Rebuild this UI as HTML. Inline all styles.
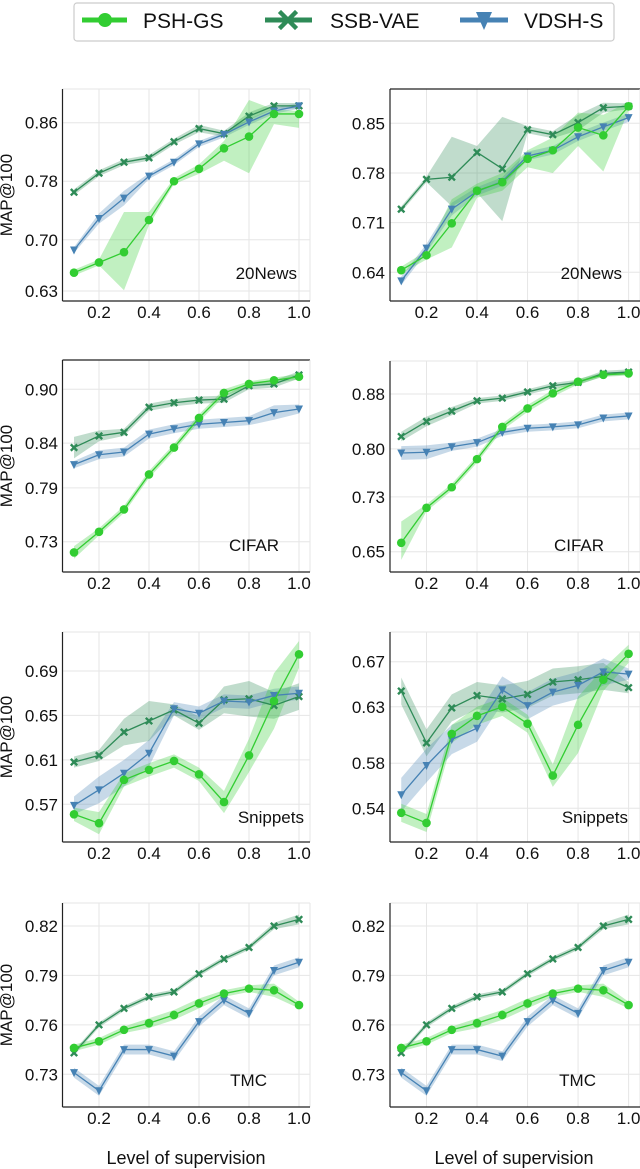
<!DOCTYPE html>
<html><head><meta charset="utf-8"><style>
html,body{margin:0;padding:0;background:#fff;}
svg{display:block;font-family:"Liberation Sans","DejaVu Sans",sans-serif;}
</style></head><body>
<svg id="fig" width="640" height="1169" viewBox="0 0 640 1169" xmlns="http://www.w3.org/2000/svg">
<g>
<rect x="74" y="3" width="540" height="38" rx="3" fill="#fff" stroke="#ccc" stroke-width="1.2"/>
<g>
<line x1="82" y1="20" x2="127" y2="20" stroke="#32cd32" stroke-width="5"/>
<circle cx="105" cy="20" r="7" fill="#32cd32"/>
<text x="143" y="28" font-size="21" fill="#111">PSH-GS</text></g>
<g>
<line x1="265" y1="20" x2="312" y2="20" stroke="#2e8b57" stroke-width="5"/>
<path d="M281,12 L288,19 L295,12 L296,13 L289,20 L296,27 L295,28 L288,21 L281,28 L280,27 L287,20 L280,13Z" fill="#2e8b57" stroke="#2e8b57" stroke-width="3"/>
<text x="330" y="28" font-size="21" fill="#111">SSB-VAE</text></g>
<g>
<line x1="460" y1="20" x2="508" y2="20" stroke="#4682b4" stroke-width="5"/>
<path d="M476,12 L492,12 L484,30Z" fill="#4682b4"/>
<text x="524" y="28" font-size="21" fill="#111">VDSH-S</text></g>
</g>
<text x="186" y="1164" font-size="18" text-anchor="middle" fill="#111">Level of supervision</text>
<text x="514" y="1164" font-size="18" text-anchor="middle" fill="#111">Level of supervision</text>
</svg>
<script>
const xVals = [0.1,0.2,0.3,0.4,0.5,0.6,0.7,0.8,0.9,1.0];
const xTicks = [0.2,0.4,0.6,0.8,1.0];
const xTickLabels = ["0.2","0.4","0.6","0.8","1.0"];

// Panel 1: 20News left
const p1Ticks = [0.86,0.78,0.70,0.63];
const p1Labels = ["0.86","0.78","0.70","0.63"];
const p1Psh = [0.655,0.669,0.683,0.727,0.780,0.797,0.825,0.841,0.872,0.872];
const p1PshLo = [0.651,0.665,0.631,0.720,0.776,0.790,0.808,0.791,0.858,0.853];
const p1PshHi = [0.659,0.673,0.738,0.738,0.784,0.803,0.835,0.891,0.878,0.876];
const p1Ssb = [0.765,0.791,0.806,0.812,0.834,0.852,0.845,0.869,0.883,0.883];
const p1SsbLo = [0.761,0.787,0.802,0.808,0.830,0.847,0.841,0.864,0.879,0.879];
const p1SsbHi = [0.769,0.795,0.810,0.816,0.838,0.857,0.849,0.874,0.887,0.887];
const p1Vd = [0.686,0.729,0.757,0.787,0.806,0.831,0.844,0.861,0.876,0.883];
const p1VdLo = [0.682,0.722,0.747,0.783,0.802,0.827,0.840,0.857,0.872,0.879];
const p1VdHi = [0.690,0.736,0.767,0.791,0.810,0.835,0.848,0.865,0.880,0.887];

// Panel 2: 20News right
const p2Ticks = [0.85,0.78,0.71,0.64];
const p2Labels = ["0.85","0.78","0.71","0.64"];
const p2Psh = [0.643,0.664,0.709,0.755,0.767,0.800,0.812,0.844,0.833,0.874];
const p2PshLo = [0.638,0.658,0.675,0.745,0.755,0.788,0.780,0.818,0.782,0.868];
const p2PshHi = [0.648,0.670,0.743,0.765,0.780,0.812,0.830,0.865,0.862,0.880];
const p2Ssb = [0.729,0.771,0.774,0.809,0.786,0.841,0.834,0.851,0.872,0.874];
const p2SsbLo = [0.725,0.767,0.733,0.752,0.712,0.836,0.829,0.840,0.865,0.870];
const p2SsbHi = [0.733,0.775,0.831,0.818,0.859,0.846,0.839,0.862,0.879,0.878];
const p2Vd = [0.628,0.674,0.729,0.754,0.768,0.804,0.812,0.831,0.845,0.858];
const p2VdLo = [0.622,0.668,0.720,0.748,0.762,0.798,0.806,0.825,0.839,0.852];
const p2VdHi = [0.634,0.680,0.738,0.760,0.774,0.810,0.818,0.837,0.851,0.864];

// Panel 3: CIFAR left
const p3Ticks = [0.90,0.84,0.79,0.73];
const p3Labels = ["0.90","0.84","0.79","0.73"];
const p3Psh = [0.718,0.741,0.766,0.805,0.835,0.868,0.896,0.906,0.910,0.914];
const p3PshLo = [0.711,0.737,0.762,0.801,0.831,0.864,0.892,0.903,0.907,0.911];
const p3PshHi = [0.725,0.745,0.770,0.809,0.839,0.872,0.900,0.909,0.913,0.917];
const p3Ssb = [0.835,0.848,0.852,0.880,0.885,0.888,0.889,0.904,0.906,0.916];
const p3SsbLo = [0.823,0.842,0.848,0.876,0.881,0.884,0.885,0.900,0.902,0.912];
const p3SsbHi = [0.847,0.854,0.856,0.884,0.889,0.892,0.893,0.908,0.910,0.920];
const p3Vd = [0.816,0.827,0.830,0.850,0.856,0.861,0.863,0.865,0.874,0.878];
const p3VdLo = [0.812,0.822,0.825,0.845,0.851,0.856,0.858,0.860,0.866,0.873];
const p3VdHi = [0.820,0.832,0.835,0.855,0.861,0.866,0.868,0.870,0.882,0.883];

// Panel 4: CIFAR right
const p4Ticks = [0.88,0.80,0.73,0.65];
const p4Labels = ["0.88","0.80","0.73","0.65"];
const p4Psh = [0.663,0.714,0.744,0.785,0.832,0.859,0.881,0.898,0.908,0.910];
const p4PshLo = [0.638,0.709,0.739,0.780,0.827,0.854,0.876,0.894,0.905,0.907];
const p4PshHi = [0.694,0.719,0.749,0.790,0.837,0.864,0.886,0.902,0.911,0.913];
const p4Ssb = [0.818,0.840,0.855,0.870,0.874,0.883,0.892,0.897,0.910,0.912];
const p4SsbLo = [0.811,0.833,0.849,0.866,0.870,0.879,0.888,0.893,0.906,0.908];
const p4SsbHi = [0.825,0.847,0.861,0.874,0.878,0.887,0.896,0.901,0.914,0.916];
const p4Vd = [0.794,0.795,0.803,0.809,0.824,0.830,0.832,0.835,0.845,0.848];
const p4VdLo = [0.784,0.785,0.797,0.803,0.819,0.825,0.827,0.830,0.840,0.843];
const p4VdHi = [0.804,0.805,0.809,0.815,0.829,0.835,0.837,0.840,0.850,0.853];

// Panel 5: Snippets left
const p5Ticks = [0.69,0.65,0.61,0.57];
const p5Labels = ["0.69","0.65","0.61","0.57"];
const p5Psh = [0.561,0.553,0.592,0.601,0.609,0.597,0.572,0.614,0.663,0.705];
const p5PshLo = [0.555,0.543,0.586,0.595,0.603,0.591,0.562,0.599,0.638,0.693];
const p5PshHi = [0.567,0.563,0.598,0.607,0.615,0.603,0.582,0.629,0.688,0.717];
const p5Ssb = [0.608,0.614,0.635,0.645,0.655,0.643,0.664,0.665,0.659,0.667];
const p5SsbLo = [0.603,0.609,0.623,0.627,0.650,0.637,0.652,0.649,0.647,0.655];
const p5SsbHi = [0.613,0.619,0.647,0.663,0.660,0.649,0.676,0.681,0.671,0.679];
const p5Vd = [0.569,0.583,0.598,0.616,0.656,0.652,0.663,0.662,0.668,0.670];
const p5VdLo = [0.561,0.571,0.586,0.604,0.650,0.646,0.657,0.656,0.662,0.664];
const p5VdHi = [0.577,0.595,0.610,0.628,0.662,0.658,0.669,0.668,0.674,0.676];

// Panel 6: Snippets right
const p6Ticks = [0.67,0.63,0.58,0.54];
const p6Labels = ["0.67","0.63","0.58","0.54"];
const p6Psh = [0.536,0.527,0.606,0.622,0.630,0.615,0.569,0.614,0.654,0.677];
const p6PshLo = [0.528,0.519,0.598,0.614,0.622,0.607,0.559,0.589,0.644,0.669];
const p6PshHi = [0.544,0.535,0.614,0.630,0.638,0.623,0.579,0.639,0.664,0.685];
const p6Ssb = [0.644,0.598,0.629,0.640,0.637,0.641,0.652,0.654,0.657,0.647];
const p6SsbLo = [0.632,0.586,0.617,0.628,0.625,0.629,0.640,0.642,0.645,0.642];
const p6SsbHi = [0.656,0.610,0.641,0.652,0.649,0.653,0.664,0.666,0.669,0.652];
const p6Vd = [0.552,0.578,0.601,0.611,0.645,0.631,0.643,0.649,0.661,0.659];
const p6VdLo = [0.537,0.563,0.588,0.599,0.633,0.619,0.631,0.637,0.649,0.654];
const p6VdHi = [0.567,0.593,0.614,0.623,0.657,0.643,0.655,0.661,0.673,0.664];

// Panels 7 & 8: TMC
const p7Ticks = [0.82,0.79,0.76,0.73];
const p7Labels = ["0.82","0.79","0.76","0.73"];
const p7Psh = [0.746,0.750,0.757,0.761,0.766,0.773,0.779,0.782,0.781,0.772];
const p7PshLo = [0.744,0.748,0.755,0.758,0.763,0.770,0.777,0.780,0.777,0.770];
const p7PshHi = [0.748,0.752,0.759,0.764,0.769,0.776,0.781,0.784,0.785,0.774];
const p7Ssb = [0.743,0.760,0.770,0.777,0.780,0.791,0.800,0.807,0.820,0.824];
const p7SsbLo = [0.7415,0.7585,0.7685,0.7755,0.7785,0.7895,0.7985,0.8055,0.818,0.821];
const p7SsbHi = [0.7445,0.7615,0.7715,0.7785,0.7815,0.7925,0.8015,0.8085,0.822,0.827];
const p7Vd = [0.731,0.720,0.745,0.745,0.741,0.762,0.775,0.767,0.793,0.798];
const p7VdLo = [0.728,0.717,0.742,0.742,0.738,0.759,0.772,0.764,0.790,0.795];
const p7VdHi = [0.734,0.723,0.748,0.748,0.744,0.765,0.778,0.770,0.796,0.801];

const panels = [
 {name:"20news-left",col:0,top:89,bot:301,v1:0.86,y1:122.7,v2:0.63,y2:291,ticks:p1Ticks,labels:p1Labels,darkTop:false,label:"20News",lx:297,ly:279,psh:[p1Psh,p1PshLo,p1PshHi],ssb:[p1Ssb,p1SsbLo,p1SsbHi],vd:[p1Vd,p1VdLo,p1VdHi]},
 {name:"20news-right",col:1,top:89,bot:301,v1:0.85,y1:123.3,v2:0.64,y2:272.3,ticks:p2Ticks,labels:p2Labels,darkTop:true,label:"20News",lx:622,ly:279,psh:[p2Psh,p2PshLo,p2PshHi],ssb:[p2Ssb,p2SsbLo,p2SsbHi],vd:[p2Vd,p2VdLo,p2VdHi]},
 {name:"cifar-left",col:0,top:360,bot:572,v1:0.90,y1:389.3,v2:0.73,y2:541.7,ticks:p3Ticks,labels:p3Labels,darkTop:true,label:"CIFAR",lx:279,ly:551,psh:[p3Psh,p3PshLo,p3PshHi],ssb:[p3Ssb,p3SsbLo,p3SsbHi],vd:[p3Vd,p3VdLo,p3VdHi]},
 {name:"cifar-right",col:1,top:361,bot:572,v1:0.88,y1:394,v2:0.65,y2:551.7,ticks:p4Ticks,labels:p4Labels,darkTop:false,label:"CIFAR",lx:604,ly:551,psh:[p4Psh,p4PshLo,p4PshHi],ssb:[p4Ssb,p4SsbLo,p4SsbHi],vd:[p4Vd,p4VdLo,p4VdHi]},
 {name:"snippets-left",col:0,top:632,bot:842,v1:0.69,y1:671,v2:0.57,y2:804.3,ticks:p5Ticks,labels:p5Labels,darkTop:false,label:"Snippets",lx:304,ly:823,psh:[p5Psh,p5PshLo,p5PshHi],ssb:[p5Ssb,p5SsbLo,p5SsbHi],vd:[p5Vd,p5VdLo,p5VdHi]},
 {name:"snippets-right",col:1,top:632,bot:842,v1:0.67,y1:661.7,v2:0.54,y2:808.3,ticks:p6Ticks,labels:p6Labels,darkTop:false,label:"Snippets",lx:628,ly:823,psh:[p6Psh,p6PshLo,p6PshHi],ssb:[p6Ssb,p6SsbLo,p6SsbHi],vd:[p6Vd,p6VdLo,p6VdHi]},
 {name:"tmc-left",col:0,top:903,bot:1107,v1:0.82,y1:926,v2:0.73,y2:1074.3,ticks:p7Ticks,labels:p7Labels,darkTop:false,label:"TMC",lx:267,ly:1086,psh:[p7Psh,p7PshLo,p7PshHi],ssb:[p7Ssb,p7SsbLo,p7SsbHi],vd:[p7Vd,p7VdLo,p7VdHi]},
 {name:"tmc-right",col:1,top:903,bot:1107,v1:0.82,y1:926,v2:0.73,y2:1074.3,ticks:p7Ticks,labels:p7Labels,darkTop:false,label:"TMC",lx:596,ly:1086,psh:[p7Psh,p7PshLo,p7PshHi],ssb:[p7Ssb,p7SsbLo,p7SsbHi],vd:[p7Vd,p7VdLo,p7VdHi]}
];
const cols = [{left:62.5,right:310,x02:99,x10:299,tickEnd:58},{left:390,right:640,x02:426.5,x10:628.6,tickEnd:385}];
const NS="http://www.w3.org/2000/svg";
const svg=document.getElementById('fig');
function mk(tag,attrs,parent){const e=document.createElementNS(NS,tag);for(const k in attrs)e.setAttribute(k,attrs[k]);parent.appendChild(e);return e;}
const colors={psh:"#32cd32",ssb:"#2e8b57",vd:"#4682b4"};
panels.forEach(p=>{
 const c=cols[p.col];
 const xs=v=>c.x02+(v-0.2)*(c.x10-c.x02)/0.8;
 const ys=v=>p.y1+(p.v1-v)*(p.y2-p.y1)/(p.v1-p.v2);
 const g=mk('g',{},svg);
 
 
 const clipId='clip-'+p.name;
 const cp=mk('clipPath',{id:clipId},g);
 mk('rect',{x:c.left,y:p.top,width:c.right-c.left,height:p.bot-p.top},cp);
 xTicks.forEach(t=>{const l=mk('line',{x1:xs(t),x2:xs(t),y1:p.top,y2:p.bot,stroke:"#e6e6e6","stroke-width":1},g);
  });
 p.ticks.forEach(t=>{const l=mk('line',{x1:c.left,x2:c.right,y1:ys(t),y2:ys(t),stroke:"#e6e6e6","stroke-width":1},g);
  });
 mk('line',{x1:c.left,x2:c.right,y1:p.top,y2:p.top,stroke:p.darkTop?"#222":"#e6e6e6","stroke-width":p.darkTop?1.2:1},g);
 mk('line',{x1:c.right,x2:c.right,y1:p.top,y2:p.bot,stroke:"#e6e6e6","stroke-width":1},g);
 const ya=mk('line',{x1:c.left,x2:c.left,y1:p.top,y2:p.bot,stroke:"#222","stroke-width":1.2},g);
 
 const xa=mk('line',{x1:c.left,x2:c.right,y1:p.bot,y2:p.bot,stroke:"#222","stroke-width":1.2},g);
 
 xTicks.forEach((t,i)=>{const tx=mk('text',{x:xs(t),y:p.bot+17,"font-size":17,"text-anchor":"middle",fill:"#111"},g);tx.textContent=xTickLabels[i];
  });
 p.ticks.forEach((t,i)=>{const tx=mk('text',{x:c.tickEnd,y:ys(t)+6,"font-size":17,"text-anchor":"end",fill:"#111"},g);tx.textContent=p.labels[i];
  });
 const pg=mk('g',{"clip-path":"url(#"+clipId+")"},g);
 ["ssb","vd","psh"].forEach(k=>{
  const [m,lo,hi]=p[k];
  let d="M"+xVals.map((x,i)=>xs(x)+","+ys(hi[i])).join(" L")+" L"+xVals.slice().reverse().map((x,j)=>{const i=xVals.length-1-j;return xs(x)+","+ys(lo[i]);}).join(" L")+"Z";
  const band=mk('path',{d:d,fill:colors[k],"fill-opacity":0.3,stroke:"none"},pg);
  
 });
 ["ssb","vd","psh"].forEach(k=>{
  const m=p[k][0];
  const ln=mk('polyline',{points:xVals.map((x,i)=>xs(x)+","+ys(m[i])).join(" "),fill:"none",stroke:colors[k],"stroke-width":1.3},pg);
  
  xVals.forEach((x,i)=>{const cx=xs(x),cy=ys(m[i]);let mkEl;
   if(k==="psh"){mkEl=mk('circle',{cx:cx,cy:cy,r:4.3,fill:colors.psh},pg);}
   else if(k==="ssb"){const s=3.2;mkEl=mk('path',{d:`M${cx-s},${cy-s}L${cx+s},${cy+s}M${cx+s},${cy-s}L${cx-s},${cy+s}`,stroke:colors.ssb,"stroke-width":2.4,fill:"none"},pg);}
   else{mkEl=mk('path',{d:`M${cx-4},${cy-3.5}L${cx+4},${cy-3.5}L${cx},${cy+4.5}Z`,fill:colors.vd},pg);}
   
  });
 });
 const lb=mk('text',{x:p.lx,y:p.ly,"font-size":17,"text-anchor":"end",fill:"#111"},g);lb.textContent=p.label;
 
 if(p.col===0){const cy=(p.top+p.bot)/2;
  const yl=mk('text',{x:12,y:cy,"font-size":17,"text-anchor":"middle",fill:"#111",transform:`rotate(-90 12 ${cy})`},g);yl.textContent="MAP@100";
  }
});
</script>
</body></html>
